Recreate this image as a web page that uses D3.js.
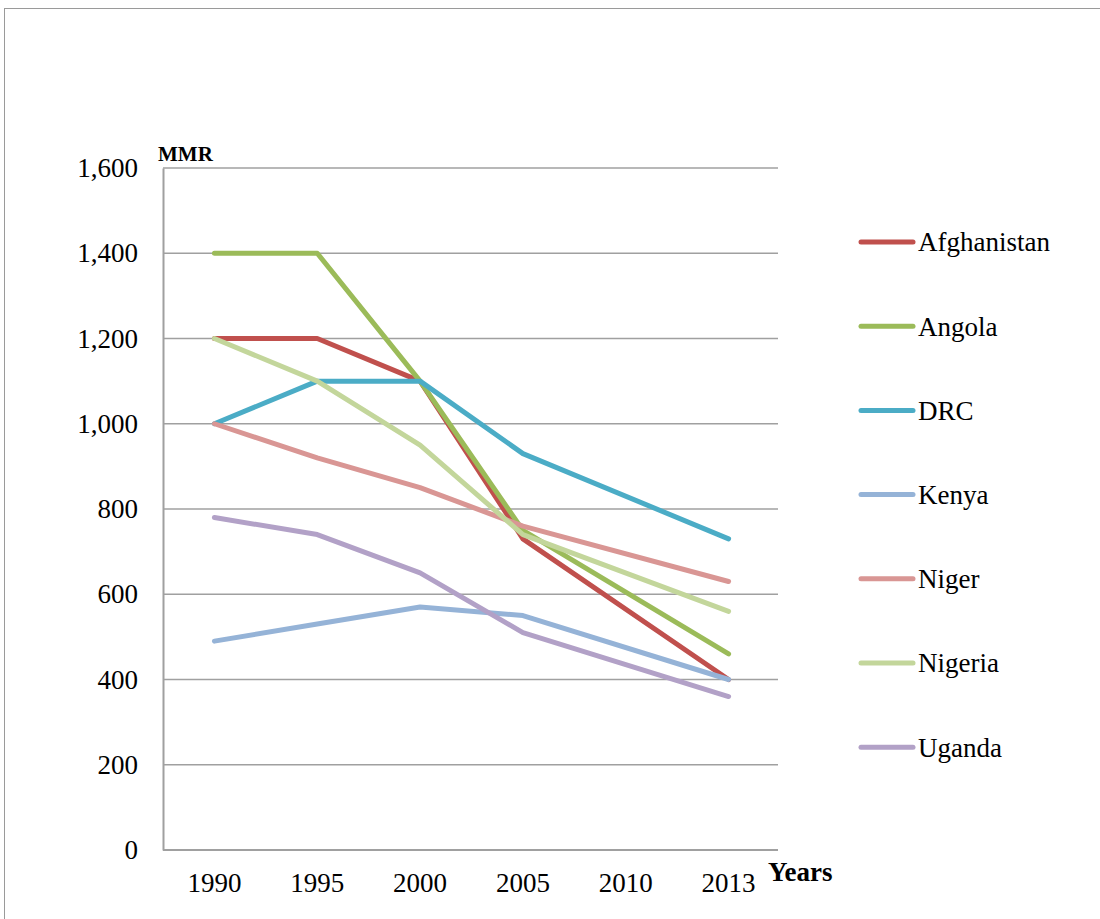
<!DOCTYPE html>
<html>
<head>
<title>MMR by country</title>
<style>
  body { margin: 0; overflow: hidden; background-color: #ffffff; }
  svg text { font-family: "Liberation Serif", "DejaVu Serif", serif; fill: #000; }
</style>
</head>
<body>
<svg id="chart"></svg>

<script src="https://cdnjs.cloudflare.com/ajax/libs/d3/7.8.5/d3.min.js"></script>
<script>
  const width = 1100;
  const height = 919;

  // Years on the x axis (2010 has no data points; lines run straight through)
  const years = ["1990", "1995", "2000", "2005", "2010", "2013"];
  const yTicks = [0, 200, 400, 600, 800, 1000, 1200, 1400, 1600];

  const countries = ["Afghanistan", "Angola", "DRC", "Kenya", "Niger", "Nigeria", "Uganda"];
  const colors = ["#c0504d", "#9bbb59", "#4bacc6", "#95b3d7", "#d99694", "#c3d69b", "#b2a1c7"];

  const afghanistan = [1200, 1200, 1100, 730, null, 400];
  const angola      = [1400, 1400, 1100, 750, null, 460];
  const drc         = [1000, 1100, 1100, 930, null, 730];
  const kenya       = [490, 530, 570, 550, null, 400];
  const niger       = [1000, 920, 850, 760, null, 630];
  const nigeria     = [1200, 1100, 950, 740, null, 560];
  const uganda      = [780, 740, 650, 510, null, 360];

  const series = [afghanistan, angola, drc, kenya, niger, nigeria, uganda];

  const svg = d3.select("#chart").attr("width", width).attr("height", height);

  // outer frame of the chart area
  svg.append("rect")
    .attr("x", 4.5).attr("y", 8.5)
    .attr("width", 1200).attr("height", 1000)
    .attr("fill", "none").attr("stroke", "#9a9a9a").attr("stroke-width", 1);

  const plot = { left: 163, right: 780, top: 168, bottom: 850 };

  const x = d3.scaleBand().domain(years).range([plot.left, plot.right]);
  const y = d3.scaleLinear().domain([0, 1600]).range([plot.bottom, plot.top]);

  // gridlines
  svg.append("g")
    .selectAll("line")
    .data(yTicks)
    .enter().append("line")
    .attr("x1", plot.left).attr("x2", plot.right - 2)
    .attr("y1", d => y(d)).attr("y2", d => y(d))
    .attr("stroke", "#a0a0a0").attr("stroke-width", 1.5);

  // y axis
  const yAxis = svg.append("g")
    .attr("transform", "translate(" + plot.left + ",0)")
    .call(d3.axisLeft(y).tickValues(yTicks).tickSize(0).tickPadding(25).tickFormat(d3.format(",")));
  yAxis.select(".domain").attr("stroke", "#a0a0a0").attr("stroke-width", 2);
  yAxis.selectAll("text").style("font-size", "27px").style("font-family", "Liberation Serif");

  // x axis
  const xAxis = svg.append("g")
    .attr("transform", "translate(0," + plot.bottom + ")")
    .call(d3.axisBottom(x).tickSize(0).tickPadding(23));
  xAxis.select(".domain").attr("d", "M" + plot.left + ",0H" + (plot.right - 2))
    .attr("stroke", "#a0a0a0").attr("stroke-width", 2);
  xAxis.selectAll("text").style("font-size", "27px").style("font-family", "Liberation Serif");

  // axis titles
  svg.append("text")
    .attr("x", 158).attr("y", 161)
    .style("font-size", "21px").style("font-weight", "bold")
    .text("MMR");
  svg.append("text")
    .attr("x", 768).attr("y", 881)
    .style("font-size", "27px").style("font-weight", "bold")
    .text("Years");

  // lines
  const line = d3.line()
    .x(d => x(d.year) + x.bandwidth() / 2)
    .y(d => y(d.value));

  svg.append("g")
    .selectAll("path")
    .data(series)
    .enter().append("path")
    .attr("d", s => line(years.map((yr, i) => ({ year: yr, value: s[i] })).filter(p => p.value != null)))
    .attr("fill", "none")
    .attr("stroke", (s, i) => colors[i])
    .attr("stroke-width", 5)
    .attr("stroke-linecap", "round")
    .attr("stroke-linejoin", "round");

  // legend
  const legend = svg.append("g")
    .selectAll("g")
    .data(countries)
    .enter().append("g")
    .attr("transform", (d, i) => "translate(0," + (242 + i * 84.2) + ")");
  legend.append("line")
    .attr("x1", 861).attr("x2", 913)
    .attr("stroke", (d, i) => colors[i])
    .attr("stroke-width", 5)
    .attr("stroke-linecap", "round");
  legend.append("text")
    .attr("x", 918).attr("dy", "0.35em")
    .style("font-size", "27px")
    .text(d => d);
</script>
</body>
</html>
